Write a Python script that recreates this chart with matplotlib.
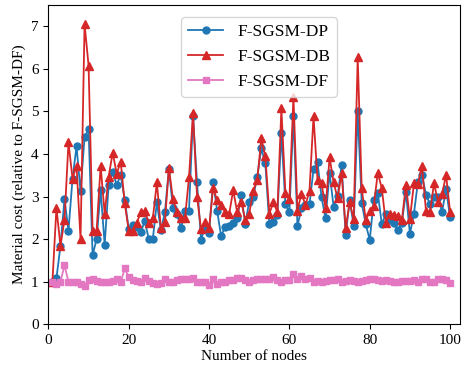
import numpy as np
import matplotlib
matplotlib.use("Agg")
import matplotlib.pyplot as plt

plt.rcParams["font.family"] = ["Liberation Serif", "DejaVu Serif"]

# ─── Datos ───────────────────────────────────────────────────────────────────
nodes = np.arange(1, 101)

cost_dp = [
    1.00, 1.08, 1.84, 2.94, 2.20, 3.42, 4.18, 3.12, 4.40, 4.58,
    1.62, 2.00, 3.15, 1.87, 3.27, 3.57, 3.28, 3.50, 2.92, 2.24,
    2.33, 2.28, 2.16, 2.43, 1.99, 2.01, 2.86, 2.21, 2.63, 3.65,
    2.72, 2.60, 2.25, 2.67, 2.67, 4.90, 3.33, 1.98, 2.29, 2.15,
    3.35, 2.67, 2.07, 2.29, 2.31, 2.38, 2.49, 3.04, 2.35, 2.88,
    3.00, 3.47, 4.13, 3.78, 2.35, 2.41, 2.56, 4.49, 2.82, 2.64,
    4.90, 2.31, 2.72, 2.80, 2.82, 3.64, 3.80, 2.98, 2.49, 3.55,
    2.76, 3.01, 3.74, 2.09, 2.92, 2.31, 5.00, 2.85, 2.35, 1.98,
    2.92, 3.09, 2.35, 2.60, 2.45, 2.37, 2.21, 2.38, 3.11, 2.12,
    2.60, 3.35, 3.51, 3.04, 2.82, 3.00, 3.00, 2.63, 3.18, 2.51,
]

cost_db = [
    1.00, 2.73, 1.84, 2.45, 4.27, 3.42, 3.72, 1.99, 7.05, 6.08,
    2.20, 2.20, 3.72, 2.60, 3.47, 4.03, 3.54, 3.82, 2.84, 2.20,
    2.20, 2.37, 2.64, 2.67, 2.37, 2.49, 3.33, 2.26, 2.41, 3.67,
    2.94, 2.64, 2.50, 2.49, 3.45, 4.96, 3.00, 2.23, 2.41, 2.25,
    3.19, 2.92, 2.80, 2.64, 2.59, 3.15, 2.63, 2.88, 2.45, 2.60,
    3.14, 3.39, 4.37, 3.95, 2.60, 2.86, 2.64, 5.07, 3.09, 2.95,
    5.35, 2.67, 3.07, 2.80, 3.14, 4.89, 3.39, 3.31, 2.72, 3.92,
    3.33, 2.96, 3.55, 2.25, 2.86, 2.47, 6.27, 3.19, 2.45, 2.66,
    2.78, 3.56, 3.19, 2.38, 2.60, 2.56, 2.54, 2.45, 3.27, 2.47,
    3.31, 3.30, 3.72, 2.66, 2.64, 3.31, 2.88, 3.05, 3.51, 2.64,
]

cost_df = [
    1.00, 0.95, 1.00, 1.38, 1.00, 1.00, 1.00, 0.95, 0.90, 1.03,
    1.05, 1.02, 0.99, 0.98, 1.00, 1.02, 1.06, 0.98, 1.31, 1.10,
    1.03, 1.01, 0.99, 1.08, 1.02, 0.97, 0.95, 0.96, 1.06, 1.00,
    0.98, 1.03, 1.05, 1.06, 1.05, 1.08, 1.00, 1.00, 0.98, 0.92,
    1.05, 0.95, 0.99, 1.00, 1.03, 1.03, 1.09, 1.08, 1.03, 0.98,
    1.03, 1.05, 1.05, 1.05, 1.05, 1.11, 1.03, 1.00, 1.03, 1.03,
    1.17, 1.05, 1.12, 1.05, 1.08, 0.99, 1.02, 0.99, 1.02, 1.03,
    1.03, 1.05, 1.00, 1.02, 1.03, 1.02, 1.00, 1.02, 1.03, 1.05,
    1.06, 1.03, 1.02, 1.03, 1.02, 0.99, 0.99, 1.02, 1.02, 1.02,
    1.03, 0.99, 1.05, 1.05, 0.99, 1.00, 1.05, 1.05, 1.03, 0.97,
]

# ─── Figura ──────────────────────────────────────────────────────────────────
fig, ax = plt.subplots(figsize=(4.7, 3.65), dpi=100)
fig.subplots_adjust(left=0.103, right=0.979, bottom=0.112, top=0.986)

ax.plot(nodes, cost_dp, color="#1f77b4", marker="o", ms=5, lw=1.3, label="F-SGSM-DP")
ax.plot(nodes, cost_db, color="#d62728", marker="^", ms=5.5, lw=1.3, label="F-SGSM-DB")
ax.plot(nodes, cost_df, color="#e377c2", marker="s", ms=5, lw=1.3, label="F-SGSM-DF")

ax.set_xlim(0, 102.5)
ax.set_ylim(0, 7.5)
ax.set_xticks([0, 20, 40, 60, 80, 100])
ax.set_yticks(range(8))
ax.tick_params(labelsize=11)

ax.set_xlabel("Number of nodes", fontsize=11, labelpad=2)
ax.set_ylabel("Material cost (relative to F-SGSM-DF)", fontsize=11, labelpad=4)
ax.legend(loc="upper center", bbox_to_anchor=(0.512, 0.962), borderaxespad=0,
          fontsize=12.5, handlelength=2.0)

plt.savefig("out.png", dpi=100)
